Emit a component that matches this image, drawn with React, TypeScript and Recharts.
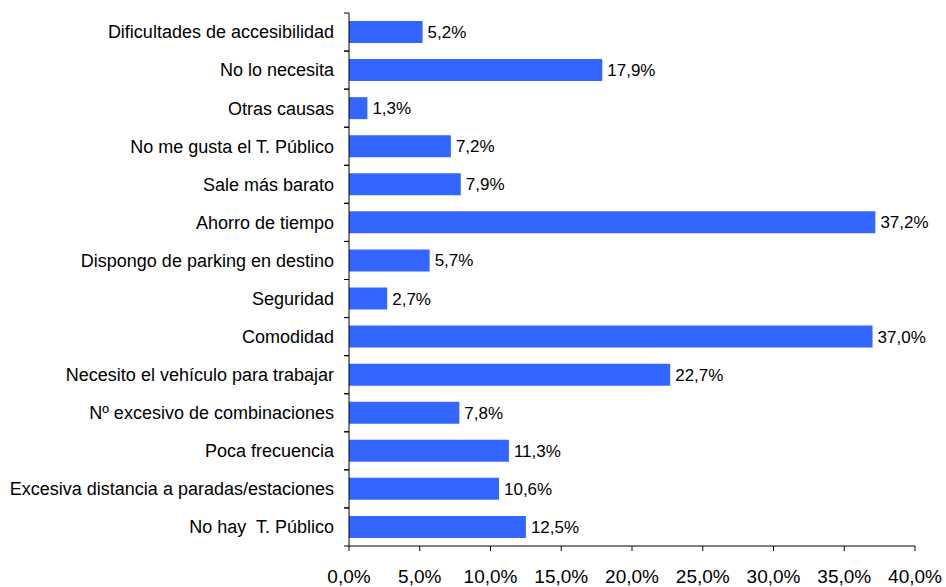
import React from 'react';
import { BarChart, Bar, XAxis, YAxis, LabelList } from 'recharts';

const categories = [
  'Dificultades de accesibilidad',
  'No lo necesita',
  'Otras causas',
  'No me gusta el T. Público',
  'Sale más barato',
  'Ahorro de tiempo',
  'Dispongo de parking en destino',
  'Seguridad',
  'Comodidad',
  'Necesito el vehículo para trabajar',
  'Nº excesivo de combinaciones',
  'Poca frecuencia',
  'Excesiva distancia a paradas/estaciones',
  'No hay  T. Público',
];
const values = [5.2, 17.9, 1.3, 7.2, 7.9, 37.2, 5.7, 2.7, 37.0, 22.7, 7.8, 11.3, 10.6, 12.5];
const xTicks = [0, 5, 10, 15, 20, 25, 30, 35, 40];

const data = categories.map((c, i) => ({ name: c, value: values[i] }));

const W = 946;
const H = 587;
const MARGIN = { top: 13, right: 31, bottom: 0, left: 0 };
const XAXIS_H = 41;
const BAND_HALF = (H - MARGIN.top - MARGIN.bottom - XAXIS_H) / categories.length / 2;
const FONT = 'Liberation Sans, Arial, sans-serif';

const fmt = (v: number) => v.toFixed(1).replace('.', ',') + '%';

const YTick = (props: any) => {
  const { x, y, payload } = props;
  return (
    <g>
      <line x1={x - 5} x2={x} y1={y - BAND_HALF} y2={y - BAND_HALF} stroke="#000" />
      <line x1={x - 5} x2={x} y1={y + BAND_HALF} y2={y + BAND_HALF} stroke="#000" />
      <text x={x - 15} y={y} dy="0.355em" textAnchor="end" fontSize={18} fontFamily={FONT} fill="#000" style={{ whiteSpace: 'pre' }}>
        {payload.value}
      </text>
    </g>
  );
};

const XTick = (props: any) => {
  const { x, y, payload } = props;
  return (
    <text x={x} y={y + 32} textAnchor="middle" fontSize={19} fontFamily={FONT} fill="#000">
      {fmt(payload.value)}
    </text>
  );
};

export default function App() {
  return (
    <div style={{ position: 'absolute', left: 0, top: 0, background: '#fff' }}>
      <BarChart width={W} height={H} data={data} layout="vertical" margin={MARGIN}>
        <XAxis
          type="number"
          domain={[0, 40]}
          ticks={xTicks}
          interval={0}
          height={XAXIS_H}
          tick={<XTick />}
          tickSize={5}
          tickMargin={0}
          stroke="#000"
          axisLine={{ stroke: '#000' }}
          tickLine={{ stroke: '#000' }}
        />
        <YAxis
          type="category"
          dataKey="name"
          width={349}
          tick={<YTick />}
          tickLine={false}
          tickSize={0}
          tickMargin={0}
          interval={0}
          axisLine={{ stroke: '#000' }}
        />
        <Bar dataKey="value" fill="#3366FF" barSize={22} isAnimationActive={false}>
          <LabelList
            dataKey="value"
            position="right"
            offset={5}
            formatter={(v: any) => fmt(Number(v))}
            style={{ fontSize: 17, fontFamily: FONT, fill: '#000' }}
          />
        </Bar>
      </BarChart>
    </div>
  );
}
